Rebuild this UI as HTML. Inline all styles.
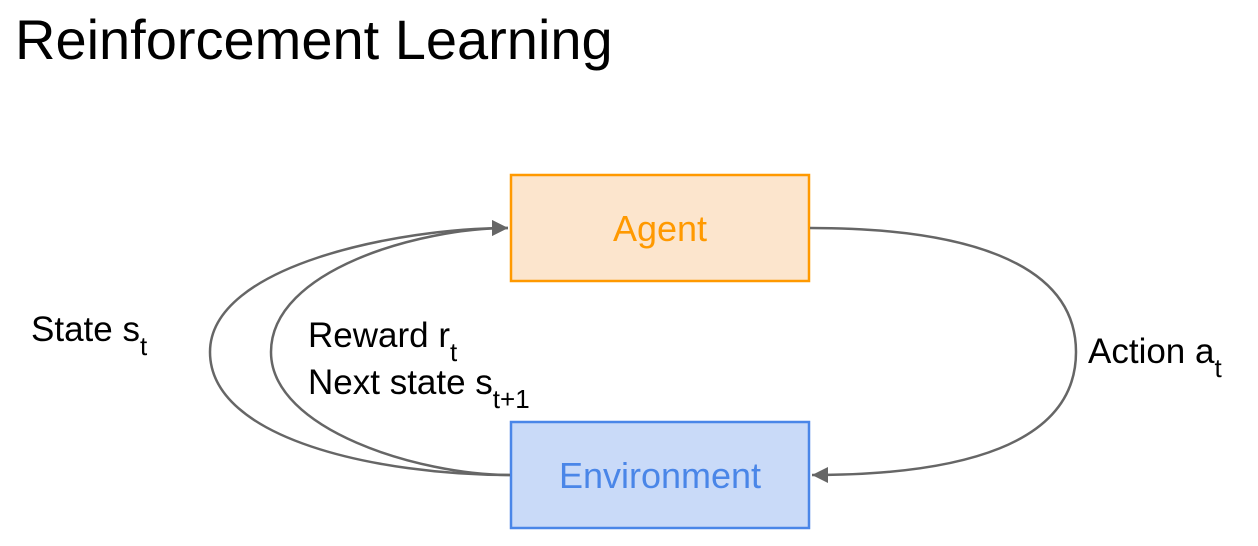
<!DOCTYPE html>
<html><head><style>
body{margin:0;width:1258px;height:541px;background:#fff;overflow:hidden;font-family:"Liberation Sans",Arial,sans-serif}
</style></head><body>
<svg width="1258" height="541" xmlns="http://www.w3.org/2000/svg" font-family="Liberation Sans, Arial, sans-serif">
<defs>
<marker id="b" viewBox="0 0 10 10" markerWidth="18" markerHeight="16" refX="10" refY="5" orient="auto" markerUnits="userSpaceOnUse"><path d="M0,0 L10,5 L0,10 z" fill="#666"/></marker></defs>
<text x="15" y="59" font-size="56" fill="#000">Reinforcement Learning</text>
<rect x="511" y="175" width="298" height="106" fill="#fce5cd" stroke="#ff9900" stroke-width="2.5"/>
<text x="660" y="241" font-size="36" fill="#ff9900" text-anchor="middle">Agent</text>
<rect x="511" y="422" width="298" height="106" fill="#c9daf8" stroke="#4a86e8" stroke-width="2.5"/>
<text x="660" y="488" font-size="36" fill="#4a86e8" text-anchor="middle">Environment</text>
<g fill="none" stroke="#666" stroke-width="2.5">
<path d="M510,475 C 380,475 210,440 210,352 C 210,265 400,228 508,228" marker-end="url(#b)"/>
<path d="M510,475 C 420,475 271,430 271,352 C 271,270 420,228 508,228" marker-end="url(#b)"/>
<path d="M810,228 C 960,228 1076,260 1076,352 C 1076,445 960,475 812,475" marker-end="url(#b)"/>
</g>
<g font-size="35" fill="#000">
<text x="31" y="341">State s<tspan font-size="26" dy="14">t</tspan></text>
<text x="308" y="347">Reward r<tspan font-size="26" dy="14">t</tspan></text>
<text x="308" y="394">Next state s<tspan font-size="26" dy="14">t+1</tspan></text>
<text x="1088" y="363">Action a<tspan font-size="26" dy="14">t</tspan></text>
</g>
</svg>
</body></html>
